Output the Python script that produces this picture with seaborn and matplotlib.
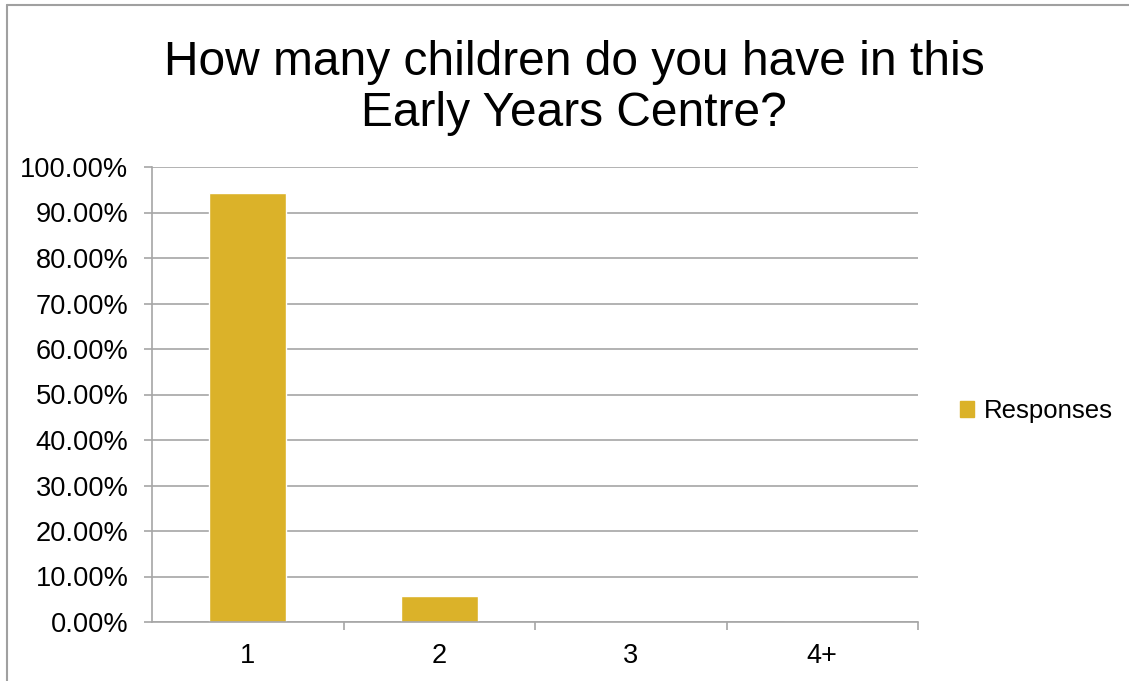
import seaborn as sns
import matplotlib.pyplot as plt
import pandas as pd
from matplotlib.lines import Line2D
from matplotlib.ticker import FixedLocator, FuncFormatter

# --- data ---
categories = ["1", "2", "3", "4+"]
responses = [94.29, 5.71, 0.0, 0.0]
series_name = "Responses"
title = "How many children do you have in this\nEarly Years Centre?"

BAR_COLOR = "#DBB229"
GRID = "#A6A6A6"

sns.set_theme(style="white")
plt.rcParams['font.family'] = ['Liberation Sans', 'DejaVu Sans']
plt.rcParams['text.color'] = 'black'

df = pd.DataFrame({"Category": categories, "Pct": responses})

fig = plt.figure(figsize=(11.29, 6.81), dpi=100)
ax = fig.add_axes([152 / 1129, 1 - 622 / 681, (918 - 152) / 1129, (622 - 167) / 681])

sns.barplot(data=df, x="Category", y="Pct", color=BAR_COLOR, width=0.4,
            saturation=1, ax=ax)

ax.set_xlim(-0.5, 3.5)
ax.set_ylim(0, 100)
ax.set_yticks(range(0, 101, 10))
ax.yaxis.set_major_formatter(FuncFormatter(lambda v, p: f"{v:.2f}%"))
ax.yaxis.grid(True, color=GRID, linewidth=1.2)
ax.set_axisbelow(True)
ax.set_xlabel("")
ax.set_ylabel("")

# tick marks between categories
ax.xaxis.set_minor_locator(FixedLocator([0.5, 1.5, 2.5, 3.5]))
ax.tick_params(axis="x", which="major", length=0, labelsize=19.5, pad=15, labelcolor="black")
ax.tick_params(axis="x", which="minor", length=6, width=1.2, color=GRID, direction="out")
ax.tick_params(axis="y", which="major", length=6, width=1.2, color=GRID, direction="out",
               labelsize=19.6, pad=11, labelcolor="black")
ax.tick_params(bottom=True, left=True, which="both")

for side in ["top", "right"]:
    ax.spines[side].set_visible(False)
for side in ["left", "bottom"]:
    ax.spines[side].set_color(GRID)
    ax.spines[side].set_linewidth(1.2)

fig.text(574 / 1129, 1 - 88 / 681, title, ha="center", va="center", fontsize=34.5,
         linespacing=1.15, color="black")

handles = [plt.Rectangle((0, 0), 1, 1, color=BAR_COLOR)]
fig.legend(handles, [series_name], loc="center left", bbox_to_anchor=(950 / 1129, 1 - 411 / 681),
           frameon=False, fontsize=18.5, handlelength=0.55, handleheight=0.55,
           handletextpad=0.35, borderaxespad=0, labelcolor="black")

# outer chart border (partly cropped)
fig.add_artist(Line2D([7 / 1129, 1.0], [1 - 4.5 / 681, 1 - 4.5 / 681], color="#A0A0A0", lw=1.5,
                      transform=fig.transFigure))
fig.add_artist(Line2D([7 / 1129, 7 / 1129], [0, 1 - 4.5 / 681], color="#A0A0A0", lw=1.5,
                      transform=fig.transFigure))

fig.savefig("out.png", dpi=100)
